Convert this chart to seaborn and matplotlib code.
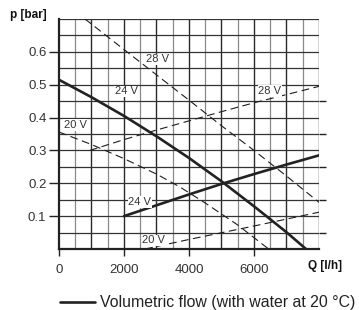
import numpy as np
import pandas as pd
import seaborn as sns
import matplotlib
matplotlib.use("Agg")
import matplotlib.pyplot as plt
from matplotlib.lines import Line2D
from matplotlib.ticker import FixedLocator

# ---- data ----
q_24_pump = [0, 1000, 2000, 3000, 4000, 5000, 6000, 7000, 7600]
p_24_pump = [0.515, 0.462, 0.405, 0.343, 0.277, 0.206, 0.130, 0.051, 0.0]
q_28_pump = [800, 2000, 3000, 4000, 5000, 6000, 7000, 8000]
p_28_pump = [0.70, 0.607, 0.530, 0.453, 0.375, 0.300, 0.222, 0.142]
q_20_pump = [0, 1000, 2000, 3000, 3700, 4500, 5500, 6450]
p_20_pump = [0.356, 0.318, 0.275, 0.228, 0.19, 0.14, 0.073, 0.0]
q_24_sys = [2000, 3000, 4000, 5000, 6000, 7000, 8000]
p_24_sys = [0.10, 0.133, 0.166, 0.198, 0.228, 0.257, 0.285]
q_28_sys = [950, 2000, 3000, 4000, 5000, 6000, 7000, 8000]
p_28_sys = [0.30, 0.333, 0.362, 0.39, 0.418, 0.445, 0.47, 0.495]
q_20_sys = [2650, 4000, 6000, 8000]
p_20_sys = [0.0, 0.029, 0.070, 0.112]

x_ticks = [0, 2000, 4000, 6000]
x_ticklabels = ["0", "2000", "4000", "6000"]
y_ticks = [0.1, 0.2, 0.3, 0.4, 0.5, 0.6]
y_ticklabels = ["0.1", "0.2", "0.3", "0.4", "0.5", "0.6"]
right_ticks = [0.05, 0.15, 0.25, 0.35, 0.45]

curve_labels = ["28 V", "24 V", "20 V", "28 V", "24 V", "20 V"]
label_q = [3030, 2080, 500, 6490, 2490, 2920]
label_p = [0.577, 0.480, 0.378, 0.481, 0.143, 0.026]

legend_text = "Volumetric flow (with water at 20 °C)"

# ---- figure ----
sns.set_style("white")
plt.rcParams["font.family"] = ["Liberation Sans", "DejaVu Sans"]

fig = plt.figure(figsize=(3.59, 3.10), dpi=100)
ax = fig.add_axes([59/359, 61/310, 260/359, 230/310])
ax.set_xlim(0, 8000)
ax.set_ylim(0, 0.7)

# grid
for gx in np.arange(500, 8001, 500):
    major = (gx % 1000 == 0)
    ax.axvline(gx, color="#2b2b2b" if major else "#8a8a8a",
               lw=1.0 if major else 0.9, zorder=1)
for gy in np.arange(0.05, 0.701, 0.05):
    ax.axhline(gy, color="#333333", lw=0.9, zorder=1)

dark = "#1e1e1e"
dash = (0, (7, 4))
sns.lineplot(x=q_28_pump, y=p_28_pump, ax=ax, color=dark, lw=0.8,
             linestyle=dash, sort=False, estimator=None, zorder=3)
sns.lineplot(x=q_20_pump, y=p_20_pump, ax=ax, color=dark, lw=0.8,
             linestyle=dash, sort=False, estimator=None, zorder=3)
sns.lineplot(x=q_28_sys, y=p_28_sys, ax=ax, color=dark, lw=0.8,
             linestyle=dash, sort=False, estimator=None, zorder=3)
sns.lineplot(x=q_20_sys, y=p_20_sys, ax=ax, color=dark, lw=0.8,
             linestyle=dash, sort=False, estimator=None, zorder=3)
sns.lineplot(x=q_24_pump, y=p_24_pump, ax=ax, color="#222222", lw=1.9,
             sort=False, estimator=None, zorder=4)
sns.lineplot(x=q_24_sys, y=p_24_sys, ax=ax, color="#222222", lw=1.9,
             sort=False, estimator=None, zorder=4)

for t, qx, py in zip(curve_labels, label_q, label_p):
    ax.text(qx, py, t, ha="center", va="center", fontsize=8, color="#333333",
            zorder=5, bbox=dict(facecolor="white", edgecolor="none", pad=0.6))

# spines
for s in ["top", "right"]:
    ax.spines[s].set_visible(False)
for s in ["left", "bottom"]:
    ax.spines[s].set_color("#222222")
    ax.spines[s].set_linewidth(1.6)
    ax.spines[s].set_zorder(6)

ax.set_xticks(x_ticks)
ax.set_xticklabels(x_ticklabels)
ax.set_yticks(y_ticks)
ax.set_yticklabels(y_ticklabels)
ax.yaxis.set_minor_locator(FixedLocator(right_ticks))
ax.tick_params(axis="x", which="major", direction="out", length=5, width=1.0,
               color="#222222", labelsize=9.5, labelcolor="#333333", pad=6,
               bottom=True)
ax.tick_params(axis="y", which="major", direction="out", length=7.5, width=1.0,
               color="#222222", labelsize=9.5, labelcolor="#333333", pad=1.5,
               left=True)
ax.tick_params(axis="y", which="minor", direction="out", length=5, width=1.0,
               color="#222222", left=False, right=True)
ax.set_xlabel("")
ax.set_ylabel("")

fig.text(10/359, 1 - 15/310, "p [bar]", ha="left", va="center",
         fontsize=8.5, fontweight="bold", color="#111111")
fig.text(308/359, 1 - 266.5/310, "Q [l/h]", ha="left", va="center",
         fontsize=8.5, fontweight="bold", color="#111111")

# legend
fig.add_artist(Line2D([60/359, 95/359], [1 - 302/310, 1 - 302/310],
                      color="#222222", lw=1.9, transform=fig.transFigure))
fig.text(100/359, 1 - 302/310, legend_text, ha="left", va="center",
         fontsize=11.4, color="#222222")

fig.savefig("out.png", dpi=100)
